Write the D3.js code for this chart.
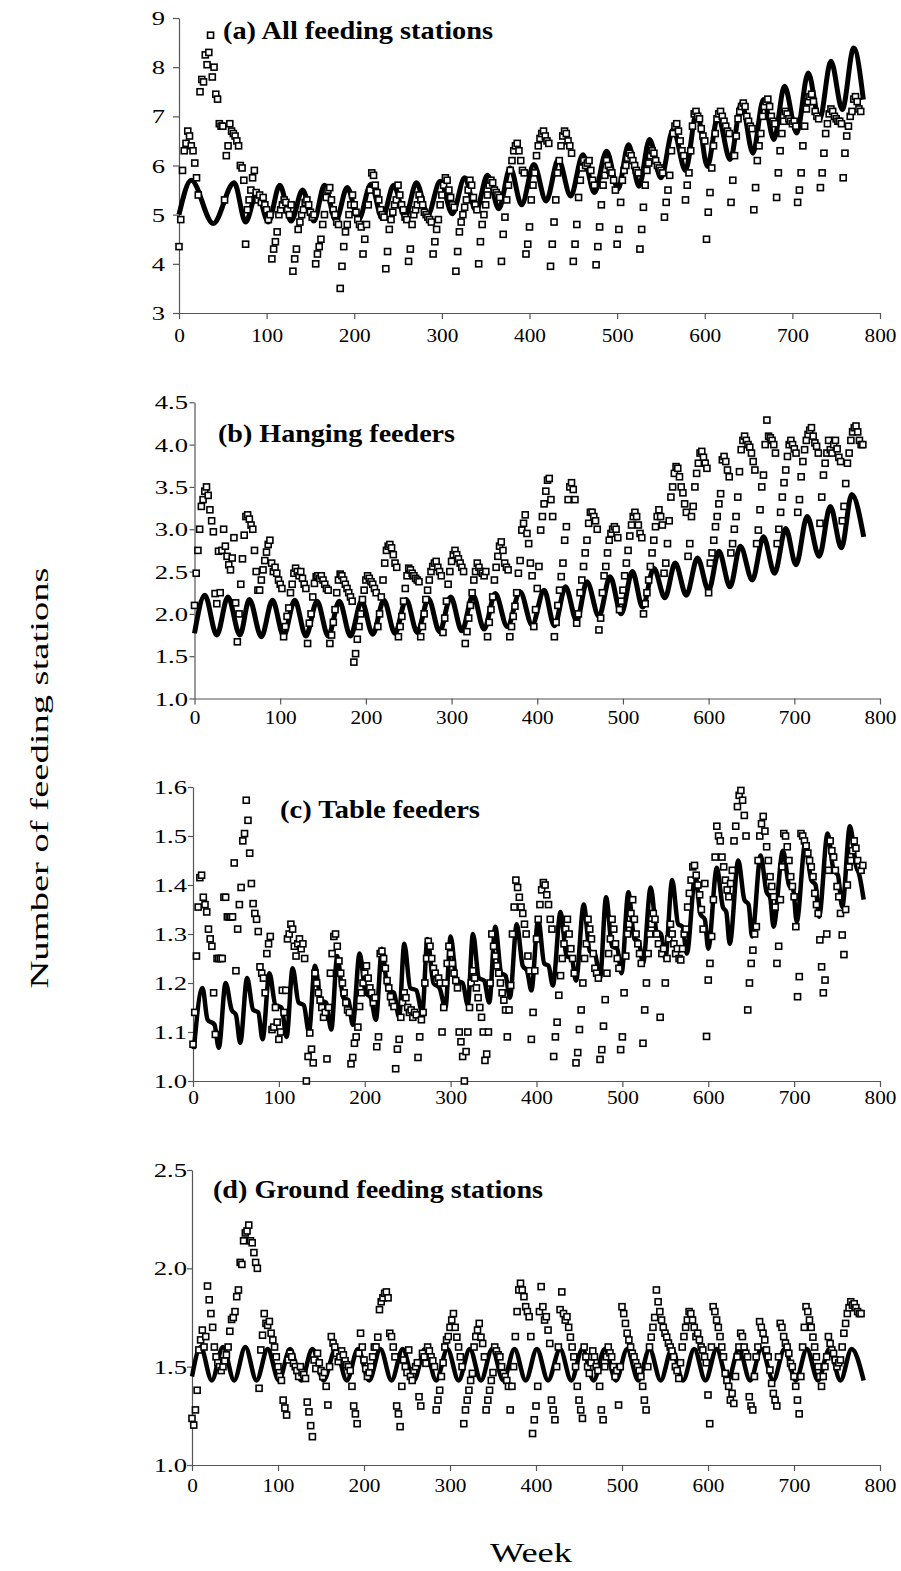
<!DOCTYPE html>
<html><head><meta charset="utf-8">
<script src="https://cdn.jsdelivr.net/npm/d3@7"></script>
<style>
body{margin:0;background:#fff;}
svg text{font-family:"Liberation Serif","Times New Roman",serif;fill:#000;}
</style></head><body>
<script>
// ---------------- data ----------------
const weekTicks = [0,100,200,300,400,500,600,700,800];
const aTicks = [3,4,5,6,7,8,9];
const bTicks = [1.0,1.5,2.0,2.5,3.0,3.5,4.0,4.5];
const cTicks = [1.0,1.1,1.2,1.3,1.4,1.5,1.6];
const dTicks = [1.0,1.5,2.0,2.5];
const panelTitles = ["(a) All feeding stations","(b) Hanging feeders","(c) Table feeders","(d) Ground feeding stations"];
const yAxisTitle = "Number of feeding stations";
const xAxisTitle = "Week";

// observed weekly counts: each row = [first week, values every 2 weeks ...]
const aObs = [
 [0,4.35,4.9,5.9,6.3,6.45,6.7,6.6,6.4,6.3,6.05,5.75,5.4],
 [24,7.5,7.75,7.7,8.25,8.05,8.3,8.65,7.8,8.0,7.45,7.35,6.85,6.8],
 [50,6.8,5.3,6.2,6.4,6.85,6.7,6.65,6.6,6.5,6.4,6.0,5.95,5.7,4.4],
 [78,5.1,5.3,5.5,5.75,5.9,5.45,5.3,5.4,5.25,5.35,5.2,5.1,4.9,5.0],
 [106,4.1,4.3,4.45,4.65,5.0,5.1,5.2,5.3,5.25,5.1,5.0,5.2],
 [130,3.85,4.1,4.3,4.7,4.85,5.0,5.1,5.25,5.3,5.2,5.05,4.95,5.0],
 [156,4.0,4.2,4.35,4.5,4.8,5.0,5.35,5.5,5.55,5.3,5.1,5.0,4.85,4.8],
 [184,3.5,3.95,4.35,4.65,4.8,5.0,5.2,5.4,5.2,5.05,4.9,4.8,4.75],
 [210,4.2,4.5,4.8,5.2,5.5,5.85,5.8,5.6,5.45,5.3,5.1,5.0,4.95],
 [236,3.9,4.25,4.7,4.9,5.05,5.2,5.3,5.6,5.4,5.2,5.1,4.95,4.9],
 [262,4.05,4.3,4.8,5.0,5.1,5.2,5.4,5.3,5.2,5.05,5.0,4.95,4.9,4.85],
 [290,4.2,4.45,4.7,4.9,5.2,5.4,5.6,5.75,5.7,5.5,5.35,5.2,5.15],
 [316,3.85,4.25,4.65,4.85,5.0,5.15,5.3,5.5,5.7,5.6,5.35,5.2,5.1],
 [342,4.0,4.45,4.8,5.0,5.2,5.4,5.6,5.7,5.65,5.5,5.45,5.4,5.35],
 [368,4.05,4.6,4.95,5.3,5.6,5.9,6.1,6.3,6.4,6.45,6.3,6.1,5.9,5.85],
 [396,4.2,4.4,4.75,5.3,5.6,5.85,6.2,6.4,6.55,6.65,6.7,6.6,6.5,6.45],
 [424,3.95,4.4,4.85,5.3,5.85,6.1,6.4,6.6,6.7,6.65,6.5,6.4,6.25],
 [450,4.05,4.4,4.8,5.35,5.7,5.95,6.1,6.0,6.05,6.1,5.9,5.7,5.6],
 [476,3.98,4.35,4.75,5.2,5.6,5.8,6.1,6.0,5.9,5.85,5.7,5.5],
 [500,4.4,4.7,5.25,5.7,5.9,6.0,6.15,6.25,6.2,6.1,6.0,5.9,5.85],
 [526,4.3,4.7,5.15,5.6,5.9,6.05,6.2,6.3,6.25,6.1,6.0,5.95,5.9,5.85],
 [554,4.95,5.25,5.5,5.8,6.3,6.65,6.8,6.85,6.7,6.5,6.3,6.2],
 [578,5.3,5.6,5.85,6.3,6.8,7.05,7.1,7.0,6.95,6.75,6.6,6.5,4.5],
 [604,5.05,5.45,5.95,6.4,6.65,6.95,7.05,7.1,7.0,6.9,6.8,6.7,6.65],
 [630,5.25,5.7,6.2,6.6,6.95,7.1,7.2,7.27,7.2,7.0,6.9,6.8,6.75],
 [656,5.1,5.55,6.1,6.4,6.65,7.0,7.2,7.3,7.35,7.2,7.0,6.9,6.85],
 [682,5.35,5.85,6.3,6.65,6.9,7.1,7.05,6.95,6.9,6.85,6.9,6.8],
 [706,5.25,5.5,5.85,6.4,6.8,7.15,7.3,7.4,7.45,7.3,7.1,7.0,6.95],
 [732,5.55,5.85,6.25,6.65,6.85,7.05,7.15,7.1,7.0,6.95,6.9,6.9,6.85],
 [758,5.75,6.25,6.6,6.8,7.0,7.1,7.35,7.4,7.3,7.15,7.1]
];
const bObs = [
 [0,2.1,2.48,2.75,3.0,3.27,3.35,3.45,3.5,3.4,3.23,3.1,2.97],
 [24,2.24,2.12,2.74,2.25,2.75,3.0,2.8,2.68,2.58,2.52,2.66,2.9,2.13],
 [50,1.67,2.0,2.35,2.65,2.93,3.15,3.17,3.12,3.05,3.0,2.75,2.5,2.28],
 [76,2.28,2.4,2.52,2.63,2.73,2.82,2.87,2.6,2.5,2.55,2.48,2.4,2.35,2.3],
 [104,1.73,1.85,1.97,2.07,2.25,2.35,2.48,2.54,2.5,2.45,2.5,2.42,2.35,2.3],
 [132,1.65,1.89,2.0,2.2,2.36,2.44,2.45,2.42,2.45,2.4,2.35,2.3,2.28],
 [158,1.65,1.75,1.9,2.05,2.25,2.4,2.47,2.45,2.4,2.35,2.3,2.25,2.2,2.15],
 [186,1.43,1.53,1.7,1.85,2.0,2.17,2.28,2.4,2.45,2.42,2.38,2.35,2.3,2.25],
 [214,1.85,2.0,2.2,2.4,2.6,2.75,2.8,2.82,2.78,2.7,2.6,2.55],
 [238,1.73,1.85,1.97,2.15,2.3,2.45,2.54,2.52,2.48,2.45,2.42,2.4,2.38],
 [264,1.73,1.85,2.0,2.17,2.28,2.4,2.5,2.56,2.6,2.62,2.55,2.5,2.45],
 [290,1.78,1.95,2.15,2.35,2.5,2.62,2.7,2.75,2.7,2.65,2.6,2.55,2.5],
 [316,1.65,1.79,1.95,2.1,2.25,2.4,2.5,2.6,2.55,2.5,2.48,2.45,2.5],
 [342,1.73,1.9,2.05,2.2,2.4,2.55,2.68,2.8,2.85,2.75,2.6,2.55,2.52],
 [368,1.73,1.85,1.97,2.09,2.25,2.48,2.63,2.99,3.07,3.17,2.95,2.83,2.6,2.45],
 [396,1.85,2.05,2.3,2.56,2.99,3.15,3.3,3.45,3.58,3.6,3.35,3.15],
 [420,1.73,1.9,2.1,2.28,2.44,2.6,2.87,3.03,3.35,3.5,3.55,3.47,3.35],
 [446,1.89,2.0,2.25,2.4,2.56,2.72,2.87,3.07,3.2,3.2,3.15,3.1,3.0],
 [472,1.81,1.95,2.25,2.45,2.56,2.72,2.87,2.95,3.0,3.03,3.0,2.9],
 [496,2.05,2.15,2.28,2.45,2.6,2.75,2.92,3.05,3.15,3.2,3.15,3.05,2.95,2.9],
 [524,2.0,2.12,2.25,2.4,2.56,2.72,2.87,3.03,3.15,3.23,3.15,3.05],
 [548,2.48,2.6,2.83,3.1,3.38,3.5,3.66,3.74,3.72,3.62,3.5,3.43,3.3,3.2],
 [576,2.68,2.83,3.15,3.27,3.5,3.66,3.78,3.9,3.92,3.85,3.78,3.72],
 [600,2.25,2.6,2.72,2.87,3.03,3.15,3.3,3.42,3.82,3.86,3.8,3.7,3.62],
 [626,2.72,2.83,3.0,3.15,3.38,3.68,3.94,4.05,4.1,4.05,4.0,3.97,3.9,3.8,3.7],
 [656,2.83,2.99,3.23,3.5,3.64,4.0,4.29,4.1,4.08,4.05,4.0,3.9],
 [680,2.83,3.0,3.2,3.38,3.55,3.7,3.86,4.0,4.05,4.0,3.95,3.9],
 [704,3.2,3.35,3.62,3.8,3.94,4.05,4.12,4.17,4.2,4.1,4.02,3.98,3.9],
 [730,3.07,3.38,3.64,3.78,3.9,4.05,3.94,3.9,4.0,4.05,3.95,3.85,3.8],
 [756,3.1,3.27,3.54,3.78,3.9,4.05,4.15,4.2,4.22,4.15,4.05,4.0,4.0]
];
const cObs = [
 [0,1.075,1.14,1.255,1.355,1.415,1.42,1.375,1.36,1.345,1.31,1.29,1.275,1.18],
 [26,1.095,1.25,1.25,1.25,1.25,1.375,1.375,1.335,1.335,1.335,1.335,1.445],
 [50,1.225,1.31,1.36,1.395,1.49,1.505,1.573,1.532,1.465,1.403,1.362,1.342,1.33,1.305],
 [78,1.233,1.22,1.21,1.18,1.26,1.28,1.295,1.105,1.11,1.15,1.12,1.085,1.1,1.185],
 [106,1.14,1.185,1.29,1.3,1.32,1.31,1.275,1.255,1.28,1.29,1.27,1.28,1.25],
 [132,1.0,1.05,1.098,1.065,1.037,1.22,1.2,1.18,1.165,1.15,1.13,1.14],
 [156,1.045,1.15,1.22,1.26,1.295,1.3,1.275,1.245,1.22,1.2,1.18,1.16,1.145,1.14],
 [184,1.035,1.048,1.077,1.09,1.11,1.152,1.18,1.2,1.22,1.235,1.21,1.19,1.18,1.16,1.17],
 [214,1.07,1.09,1.26,1.265,1.25,1.23,1.205,1.19,1.172,1.16,1.152],
 [236,1.025,1.065,1.085,1.13,1.16,1.18,1.17,1.15,1.14,1.145,1.13,1.14,1.135],
 [262,1.048,1.09,1.125,1.14,1.2,1.25,1.285,1.275,1.25,1.23,1.22,1.205,1.21,1.2],
 [290,1.1,1.15,1.2,1.24,1.275,1.26,1.24,1.22,1.205,1.19,1.1,1.08,1.05],
 [316,1.0,1.06,1.1,1.15,1.2,1.225,1.21,1.19,1.17,1.15,1.13],
 [338,1.1,1.042,1.055,1.1,1.2,1.3,1.275,1.255,1.235,1.22,1.2,1.18,1.165,1.145],
 [366,1.09,1.145,1.195,1.3,1.355,1.41,1.395,1.375,1.355,1.342,1.32,1.3,1.255,1.225],
 [394,1.085,1.14,1.225,1.29,1.33,1.36,1.39,1.405,1.4,1.38,1.36,1.33,1.31],
 [420,1.05,1.09,1.12,1.175,1.215,1.25,1.28,1.31,1.33,1.3,1.27,1.25,1.22],
 [446,1.037,1.058,1.105,1.145,1.2,1.25,1.28,1.33,1.31,1.29,1.26,1.23,1.22,1.21],
 [474,1.044,1.064,1.112,1.166,1.22,1.26,1.29,1.33,1.31,1.28,1.25,1.23],
 [498,1.064,1.09,1.18,1.255,1.3,1.32,1.342,1.37,1.33,1.3,1.28,1.26,1.24],
 [524,1.077,1.145,1.2,1.26,1.3,1.32,1.342,1.33,1.3,1.28,1.13,1.26,1.27],
 [550,1.2,1.25,1.29,1.32,1.3,1.28,1.26,1.27,1.25,1.247,1.27,1.3,1.31],
 [576,1.355,1.383,1.41,1.437,1.44,1.42,1.4,1.38,1.35,1.31,1.403,1.091,1.206],
 [602,1.24,1.295,1.37,1.457,1.52,1.5,1.49,1.457,1.437,1.41,1.39,1.376,1.403,1.43],
 [630,1.49,1.52,1.56,1.583,1.593,1.573,1.542,1.5,1.145,1.2,1.24,1.267,1.3,1.315],
 [658,1.45,1.5,1.525,1.54,1.51,1.478,1.45,1.417,1.397,1.376,1.355],
 [680,1.24,1.275,1.37,1.437,1.505,1.5,1.478,1.45,1.417,1.397,1.376,1.315,1.172,1.213],
 [708,1.505,1.5,1.49,1.48,1.465,1.45,1.437,1.417,1.383,1.36,1.342,1.288,1.233,1.18],
 [736,1.206,1.3,1.43,1.49,1.47,1.457,1.43,1.397,1.376,1.342,1.298,1.258,1.35],
 [762,1.4,1.437,1.45,1.47,1.49,1.475,1.45,1.437,1.43,1.44]
];
const dObs = [
 [0,1.237,1.203,1.28,1.38,1.585,1.636,1.686,1.6,1.653,1.91,1.84,1.77,1.7,1.6],
 [28,1.55,1.52,1.5,1.48,1.5,1.53,1.56,1.6,1.68,1.74,1.75,1.78],
 [52,1.856,1.89,2.03,2.02,2.14,2.18,2.19,2.22,2.14,2.13,2.08,2.03,2.0],
 [78,1.39,1.585,1.66,1.77,1.72,1.71,1.73,1.67,1.636,1.6,1.55,1.5,1.45,1.43],
 [106,1.33,1.29,1.254,1.534,1.568,1.55,1.517,1.5,1.48,1.45,1.5,1.47,1.46,1.44],
 [134,1.32,1.27,1.2,1.144,1.534,1.49,1.568,1.52,1.48,1.45,1.47,1.4,1.305],
 [160,1.5,1.653,1.62,1.6,1.568,1.526,1.55,1.58,1.56,1.53,1.51,1.5,1.48,1.4],
 [188,1.3,1.26,1.21,1.568,1.67,1.6,1.534,1.49,1.45,1.47,1.5,1.55,1.6],
 [214,1.6,1.65,1.79,1.83,1.85,1.873,1.88,1.85,1.67,1.653,1.6,1.55],
 [238,1.3,1.26,1.195,1.4,1.534,1.5,1.47,1.585,1.45,1.43,1.48,1.5,1.52],
 [264,1.347,1.3,1.568,1.55,1.517,1.6,1.58,1.55,1.53,1.5,1.28,1.33,1.38],
 [290,1.45,1.52,1.6,1.636,1.653,1.7,1.737,1.77,1.7,1.65,1.6,1.55,1.5,1.21],
 [318,1.28,1.33,1.38,1.43,1.466,1.6,1.653,1.686,1.72,1.65,1.618,1.55],
 [342,1.28,1.33,1.38,1.43,1.47,1.6,1.58,1.56,1.55,1.5,1.466,1.45,1.43,1.4],
 [370,1.28,1.4,1.5,1.653,1.78,1.89,1.924,1.89,1.856,1.805,1.78,1.754,1.653],
 [396,1.16,1.23,1.3,1.4,1.78,1.907,1.805,1.737,1.754,1.686,1.618,1.33],
 [420,1.28,1.23,1.5,1.6,1.79,1.88,1.77,1.737,1.754,1.7,1.65,1.6,1.55,1.5],
 [448,1.4,1.33,1.28,1.237,1.6,1.55,1.5,1.466,1.52,1.58,1.55,1.5,1.48],
 [474,1.4,1.28,1.23,1.5,1.55,1.6,1.57,1.55,1.5,1.45,1.48,1.305],
 [498,1.5,1.805,1.77,1.72,1.67,1.636,1.6,1.568,1.55,1.52,1.5,1.48,1.45],
 [524,1.4,1.33,1.28,1.5,1.6,1.65,1.7,1.75,1.89,1.83,1.78,1.737,1.7,1.67],
 [552,1.65,1.62,1.6,1.58,1.55,1.5,1.48,1.44,1.52,1.6,1.653,1.7],
 [576,1.737,1.78,1.77,1.737,1.7,1.653,1.67,1.636,1.6,1.585,1.55,1.52,1.356,1.21],
 [604,1.6,1.805,1.78,1.737,1.7,1.653,1.6,1.55,1.466,1.43,1.4,1.33,1.364,1.313],
 [632,1.45,1.55,1.6,1.67,1.653,1.6,1.568,1.55,1.347,1.3,1.28,1.45,1.55],
 [658,1.6,1.729,1.7,1.67,1.636,1.585,1.55,1.483,1.415,1.364,1.33,1.3],
 [682,1.55,1.72,1.7,1.653,1.62,1.6,1.568,1.517,1.5,1.45,1.4,1.33],
 [706,1.26,1.45,1.6,1.7,1.805,1.78,1.737,1.7,1.65,1.6,1.55,1.5,1.45],
 [732,1.4,1.45,1.5,1.55,1.653,1.618,1.585,1.568,1.534,1.5,1.52,1.534,1.6],
 [758,1.67,1.72,1.77,1.8,1.83,1.813,1.82,1.8,1.78,1.77,1.77]
];

// fitted model: turning points (week, value)
const aLineWeeks = [0,14,39,63,76,89,102,115,128,141,154,166,179,192,205,219,232,245,258,271,284,298,312,326,339,352,365,378,391,405,419,433,447,461,474,488,501,513,525,537,550,564,578,591,603,615,629,642,655,667,679,691,705,718,731,744,757,770,781];
const aLineVals  = [5.0,5.7,4.82,5.65,4.85,5.45,4.85,5.6,4.87,5.5,4.87,5.6,4.88,5.55,4.9,5.62,4.92,5.6,4.95,5.65,5.0,5.68,5.02,5.75,5.08,5.8,5.12,5.95,5.2,6.02,5.28,6.12,5.38,6.22,5.45,6.29,5.52,6.42,5.58,6.53,5.75,6.73,5.9,7.1,5.98,7.0,6.12,7.27,6.25,7.34,6.53,7.61,6.66,7.88,6.93,8.12,7.14,8.39,7.34];
const bLineWeeks = [0,12,26,39,53,64,78,91,104,117,130,143,156,169,182,195,208,221,234,247,260,273,286,299,312,325,338,351,365,380,394,408,420,433,446,458,472,485,498,511,523,536,549,561,574,587,600,612,625,637,651,664,677,690,702,715,729,742,755,767,781];
const bLineVals  = [1.77,2.22,1.75,2.2,1.75,2.17,1.73,2.16,1.74,2.16,1.74,2.15,1.74,2.15,1.74,2.15,1.76,2.16,1.77,2.17,1.78,2.18,1.79,2.2,1.8,2.22,1.82,2.24,1.85,2.26,1.87,2.28,1.86,2.32,1.92,2.38,1.97,2.44,2.0,2.5,2.08,2.54,2.19,2.6,2.22,2.66,2.28,2.74,2.32,2.8,2.4,2.91,2.48,3.01,2.58,3.15,2.68,3.27,2.78,3.41,2.91];
const cLineWeeks = [1,
 11,17,25,30, 38,45,50,55, 63,70,76,81, 89,96,103,109, 116,123,129,135, 142,149,155,161,
 168,175,181,186, 194,201,207,213, 220,227,234,240, 246,253,260,267, 273,280,287,294, 300,307,314,320,
 326,333,339,345, 352,359,364,369, 377,384,389,394, 402,409,414,419, 428,435,441,446, 455,462,468,474,
 481,488,494,499, 507,514,519,524, 533,540,545,550, 558,565,570,575, 585,591,596,600, 610,617,621,625,
 635,642,647,651, 661,668,672,676, 687,694,699,703, 713,720,725,729, 739,746,751,756, 765,772,776,781];
const cLineVals = [1.065,
 1.19,1.125,1.115,1.068, 1.2,1.145,1.135,1.078, 1.21,1.145,1.14,1.085, 1.22,1.155,1.15,1.09, 1.23,1.16,1.155,1.1, 1.235,1.165,1.16,1.105,
 1.255,1.17,1.165,1.115, 1.26,1.18,1.17,1.125, 1.27,1.185,1.18,1.13, 1.28,1.19,1.185,1.14, 1.29,1.2,1.19,1.15, 1.295,1.205,1.2,1.155,
 1.3,1.21,1.205,1.16, 1.315,1.22,1.215,1.17, 1.32,1.235,1.225,1.185, 1.33,1.24,1.235,1.195, 1.345,1.255,1.25,1.205, 1.36,1.265,1.26,1.21,
 1.375,1.275,1.27,1.22, 1.385,1.29,1.285,1.24, 1.395,1.305,1.3,1.25, 1.41,1.32,1.315,1.26, 1.42,1.34,1.33,1.27, 1.435,1.355,1.345,1.28,
 1.45,1.37,1.36,1.295, 1.46,1.385,1.375,1.315, 1.47,1.4,1.39,1.325, 1.485,1.41,1.4,1.335, 1.505,1.43,1.42,1.355, 1.52,1.44,1.42,1.37];
const dLineWeeks = [0,10,23,36,49,62,75,88,101,114,127,140,153,167,180,193,206,219,232,245,258,271,284,297,310,323,336,349,362,375,388,401,414,428,441,454,467,480,493,506,519,532,545,558,571,584,597,610,623,636,649,662,676,689,702,715,728,741,754,767,781];
const dLineVals  = [1.45,
 1.6,1.43, 1.6,1.43, 1.6,1.43, 1.59,1.43, 1.59,1.43, 1.59,1.43, 1.59,1.43, 1.59,1.43, 1.59,1.43, 1.59,1.43,
 1.59,1.43, 1.59,1.43, 1.59,1.43, 1.59,1.43, 1.59,1.43, 1.59,1.43, 1.59,1.43, 1.59,1.43, 1.59,1.43, 1.59,1.43,
 1.59,1.43, 1.59,1.43, 1.59,1.43, 1.59,1.43, 1.59,1.43, 1.59,1.43, 1.59,1.43, 1.59,1.43, 1.59,1.43, 1.59,1.43];

// ---------------- layout ----------------
const W = 901, H = 1571;
const serif = '"Liberation Serif","Times New Roman",serif';
const panels = [
 {obs:aObs, lw:aLineWeeks, lv:aLineVals, ticks:aTicks, fmt:d3.format("d"), dom:[3,9],
  x0:179, x1:880, yTop:18, yBot:313, labRight:165, xLabY:335, tx:223, ty:39, tw:270, lineW:5},
 {obs:bObs, lw:bLineWeeks, lv:bLineVals, ticks:bTicks, fmt:d3.format(".1f"), dom:[1,4.5],
  x0:194.5, x1:880, yTop:402.3, yBot:698.5, labRight:188, xLabY:717, tx:218, ty:442, tw:237, lineW:5},
 {obs:cObs, lw:cLineWeeks, lv:cLineVals, ticks:cTicks, fmt:d3.format(".1f"), dom:[1,1.6],
  x0:193, x1:880, yTop:787, yBot:1081, labRight:187, xLabY:1097, tx:280, ty:818, tw:200, lineW:4.5},
 {obs:dObs, lw:dLineWeeks, lv:dLineVals, ticks:dTicks, fmt:d3.format(".1f"), dom:[1,2.5],
  x0:192, x1:880, yTop:1170, yBot:1465, labRight:187, xLabY:1485, tx:213, ty:1198, tw:330, lineW:4.5}
];

const svg = d3.select("body").append("svg").attr("width", W).attr("height", H)
  .style("background","#fff");

function stretch(sel, factor){
  sel.each(function(){
    const w = this.getComputedTextLength();
    d3.select(this).attr("textLength", w*factor).attr("lengthAdjust","spacingAndGlyphs");
  });
}

panels.forEach((p, i) => {
  const x = d3.scaleLinear().domain([0,800]).range([p.x0, p.x1]);
  const y = d3.scaleLinear().domain(p.dom).range([p.yBot, p.yTop]);
  const g = svg.append("g");

  // axes
  const tickLen = i === 0 ? 6 : 5;
  const yAx = g.append("g").attr("transform", `translate(${p.x0},0)`)
    .call(d3.axisLeft(y).tickValues(p.ticks).tickFormat(p.fmt).tickSize(tickLen).tickSizeOuter(0)
      .tickPadding(p.x0 - p.labRight - tickLen));
  const xAx = g.append("g").attr("transform", `translate(0,${p.yBot})`)
    .call(d3.axisBottom(x).tickValues(weekTicks).tickSize(6).tickSizeOuter(0));
  [yAx, xAx].forEach(a => {
    a.attr("font-family", serif).attr("font-size", 19);
    a.select(".domain").attr("stroke", "#555").attr("stroke-width", 1.2);
    a.selectAll(".tick line").attr("stroke", "#555").attr("stroke-width", 1.2);
  });
  yAx.selectAll(".tick text").attr("dy", "0.35em");
  xAx.selectAll(".tick text").attr("y", p.xLabY - p.yBot).attr("dy", "0.35em");
  stretch(yAx.selectAll(".tick text"), 1.4);
  stretch(xAx.selectAll(".tick text"), 1.12);

  // model line
  const lineData = p.lw.map((w, k) => ({w, v: p.lv[k]}));
  g.append("path").datum(lineData)
    .attr("fill", "none").attr("stroke", "#000").attr("stroke-width", p.lineW)
    .attr("stroke-linejoin", "round")
    .attr("d", d3.line().x(d => x(d.w)).y(d => y(d.v)).curve(d3.curveMonotoneX));

  // observed points
  const pts = p.obs.flatMap(r => r.slice(1).map((v, k) => ({w: r[0] + 2*k, v})));
  const s = 6;
  g.append("g").selectAll("rect").data(pts).join("rect")
    .attr("x", d => x(d.w) - s/2).attr("y", d => y(d.v) - s/2)
    .attr("width", s).attr("height", s)
    .attr("fill", "#fff").attr("stroke", "#000").attr("stroke-width", 1.6);

  // panel title
  g.append("text").attr("x", p.tx).attr("y", p.ty)
    .attr("font-size", 25).attr("font-weight", "bold")
    .attr("textLength", p.tw).attr("lengthAdjust", "spacingAndGlyphs")
    .text(panelTitles[i]);
});

// axis titles
svg.append("text")
  .attr("transform", "translate(48,778) rotate(-90)")
  .attr("text-anchor", "middle").attr("font-size", 25)
  .attr("textLength", 421).attr("lengthAdjust", "spacingAndGlyphs")
  .text(yAxisTitle);
svg.append("text")
  .attr("x", 531).attr("y", 1562)
  .attr("text-anchor", "middle").attr("font-size", 27)
  .attr("textLength", 82).attr("lengthAdjust", "spacingAndGlyphs")
  .text(xAxisTitle);
</script>
</body></html>
